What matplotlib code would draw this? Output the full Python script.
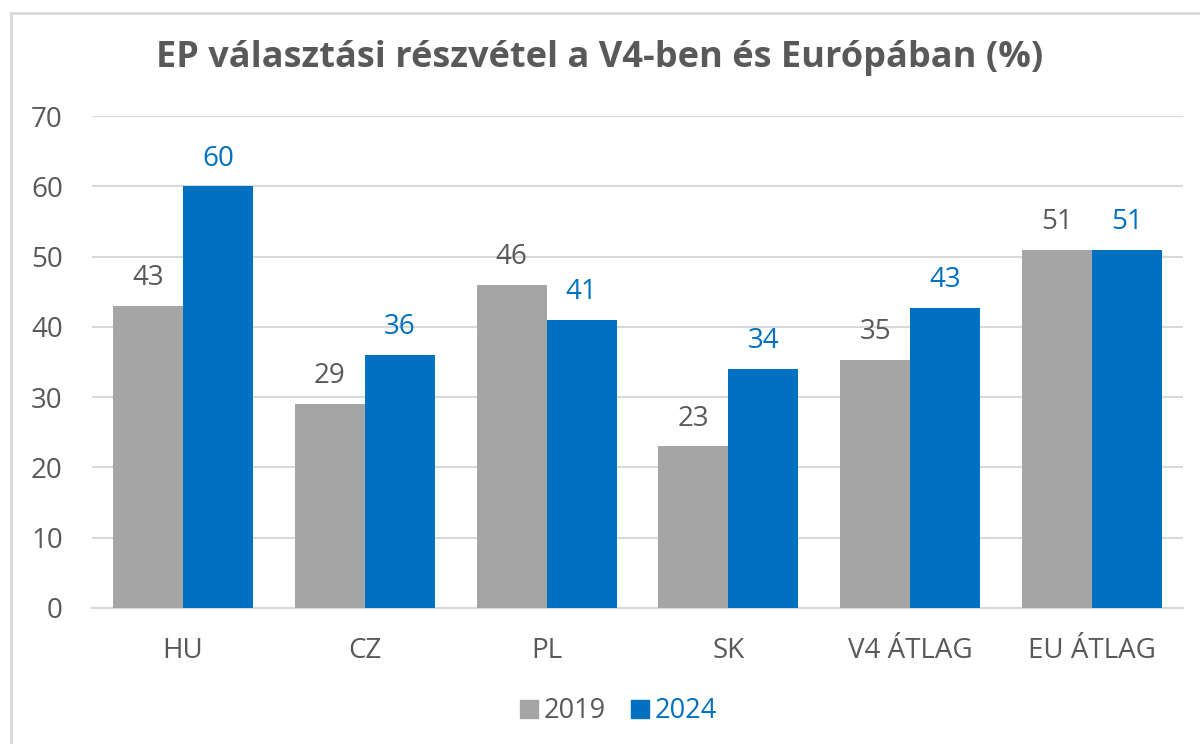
import matplotlib.pyplot as plt
from matplotlib.lines import Line2D
import numpy as np

plt.rcParams['font.family'] = ['Open Sans', 'DejaVu Sans']

categories = ["HU", "CZ", "PL", "SK", "V4 ÁTLAG", "EU ÁTLAG"]
vals_2019 = [43, 29, 46, 23, 35.25, 51]
vals_2024 = [60, 36, 41, 34, 42.75, 51]
series_names = ["2019", "2024"]

gray = "#A5A5A5"
blue = "#0070C0"
text_gray = "#595959"
grid_col = "#D9D9D9"

fig = plt.figure(figsize=(12, 7.44), dpi=100)
ax = fig.add_axes([92 / 1200, 1 - 608 / 744, (1183 - 92) / 1200, (608 - 116) / 744])

x = np.arange(len(categories))
w = 0.385
b1 = ax.bar(x - w / 2, vals_2019, w, color=gray, zorder=3)
b2 = ax.bar(x + w / 2, vals_2024, w, color=blue, zorder=3)

for bars, vals, col in [(b1, vals_2019, text_gray), (b2, vals_2024, blue)]:
    for rect, v in zip(bars, vals):
        ax.annotate(f"{v:.0f}", (rect.get_x() + rect.get_width() / 2, v),
                    xytext=(0, 20), textcoords="offset points",
                    ha="center", va="center", fontsize=20, color=col)

ax.set_xlim(-0.5, len(categories) - 0.5)
ax.set_ylim(0, 70)
ax.set_yticks(range(0, 71, 10))
ax.set_xticks(x)
ax.set_xticklabels(categories)
ax.yaxis.grid(True, color=grid_col, linewidth=1.5, zorder=0)
ax.tick_params(axis="both", length=0, labelsize=20, colors=text_gray)
ax.tick_params(axis="y", pad=21)
ax.tick_params(axis="x", pad=21)
for s in ["left", "right", "top"]:
    ax.spines[s].set_visible(False)
ax.spines["bottom"].set_color(grid_col)
ax.spines["bottom"].set_linewidth(1.5)

fig.text(0.5, 1 - 58 / 744, "EP választási részvétel a V4-ben és Európában (%)",
         ha="center", va="center", fontsize=26, fontweight="bold", color=text_gray)

handles = [Line2D([], [], marker="s", linestyle="", markersize=12.5, color=gray),
           Line2D([], [], marker="s", linestyle="", markersize=12.5, color=blue)]
leg = fig.legend(handles, series_names, loc="center", bbox_to_anchor=(617 / 1200, 1 - 711 / 744),
                 ncol=2, frameon=False, fontsize=19.5, handletextpad=0.1, columnspacing=0.8,
                 handlelength=0.9)
for t, c in zip(leg.get_texts(), [text_gray, blue]):
    t.set_color(c)

# border (left and top only visible)
fig.add_artist(Line2D([11 / 1200, 11 / 1200], [0, 1 - 13 / 744], color=grid_col, linewidth=2,
                      transform=fig.transFigure))
fig.add_artist(Line2D([11 / 1200, 1], [1 - 13 / 744, 1 - 13 / 744], color=grid_col, linewidth=2,
                      transform=fig.transFigure))

fig.savefig("out.png", dpi=100)
